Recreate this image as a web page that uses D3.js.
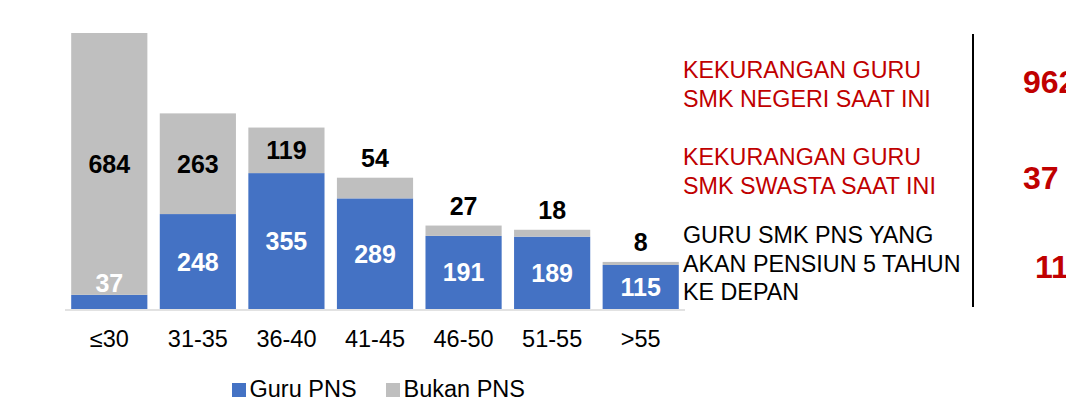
<!DOCTYPE html>
<html>
<head>
<meta charset="utf-8">
<script src="https://cdn.jsdelivr.net/npm/d3@7"></script>
<style>
  body { margin: 0; background: #fff; }
  text { font-family: "Liberation Sans", Arial, sans-serif; }
</style>
</head>
<body>
<div id="chart"></div>
<script>
var svgWidth = 1066;
var svgHeight = 401;

// data
var ageGroups = ["≤30", "31-35", "36-40", "41-45", "46-50", "51-55", ">55"];
var guruPNS = [37, 248, 355, 289, 191, 189, 115];
var bukanPNS = [684, 263, 119, 54, 27, 18, 8];
var seriesNames = ["Guru PNS", "Bukan PNS"];
var seriesColors = ["#4472c4", "#bfbfbf"];

var noteLines = [
  ["KEKURANGAN GURU", "SMK NEGERI SAAT INI"],
  ["KEKURANGAN GURU", "SMK SWASTA SAAT INI"],
  ["GURU SMK PNS YANG", "AKAN PENSIUN 5 TAHUN", "KE DEPAN"]
];
var noteColors = ["#c00000", "#c00000", "#000000"];
var noteValues = ["962", "37", "11"];

var svg = d3.select("#chart")
  .append("svg")
  .attr("width", svgWidth)
  .attr("height", svgHeight);

var xBandScale = d3.scaleBand()
  .domain(ageGroups)
  .range([65, 685])
  .paddingInner(0.14)
  .paddingOuter(0.07);

var yLinearScale = d3.scaleLinear()
  .domain([0, 721])
  .range([309, 33]);

var rows = ageGroups.map((g, i) => ({ group: g, pns: guruPNS[i], bukan: bukanPNS[i] }));

// baseline
svg.append("line")
  .attr("x1", 65).attr("x2", 685)
  .attr("y1", 310).attr("y2", 310)
  .attr("stroke", "#d9d9d9")
  .attr("stroke-width", 1.5);

// blue segments
svg.selectAll(".pns")
  .data(rows)
  .enter()
  .append("rect")
  .attr("x", d => xBandScale(d.group))
  .attr("y", d => yLinearScale(d.pns))
  .attr("width", xBandScale.bandwidth())
  .attr("height", d => yLinearScale(0) - yLinearScale(d.pns))
  .attr("fill", seriesColors[0]);

// grey segments
svg.selectAll(".bukan")
  .data(rows)
  .enter()
  .append("rect")
  .attr("x", d => xBandScale(d.group))
  .attr("y", d => yLinearScale(d.pns + d.bukan))
  .attr("width", xBandScale.bandwidth())
  .attr("height", d => yLinearScale(d.pns) - yLinearScale(d.pns + d.bukan))
  .attr("fill", seriesColors[1]);

// labels for blue segments
svg.selectAll(".pnsLabel")
  .data(rows)
  .enter()
  .append("text")
  .attr("x", d => xBandScale(d.group) + xBandScale.bandwidth() / 2)
  .attr("y", d => {
    var top = yLinearScale(d.pns), h = yLinearScale(0) - top;
    return h < 30 ? top - 3 : top + h / 2 + 9;
  })
  .attr("text-anchor", "middle")
  .attr("font-size", 25)
  .attr("font-weight", "bold")
  .attr("fill", "#fff")
  .text(d => d.pns);

// labels for grey segments
svg.selectAll(".bukanLabel")
  .data(rows)
  .enter()
  .append("text")
  .attr("x", d => xBandScale(d.group) + xBandScale.bandwidth() / 2)
  .attr("y", d => {
    var top = yLinearScale(d.pns + d.bukan), h = yLinearScale(d.pns) - top;
    return h < 30 ? top - 11 : top + h / 2 + 9;
  })
  .attr("text-anchor", "middle")
  .attr("font-size", 25)
  .attr("font-weight", "bold")
  .attr("fill", "#000")
  .text(d => d.bukan);

// x axis labels
var bottomAxis = d3.axisBottom(xBandScale).tickSize(0).tickPadding(0);
var xAxis = svg.append("g")
  .attr("transform", "translate(0, 347)")
  .call(bottomAxis);
xAxis.select(".domain").remove();
xAxis.selectAll("text")
  .attr("dy", 0)
  .attr("y", 0)
  .attr("font-size", 23.5)
  .attr("font-family", "Liberation Sans, Arial, sans-serif")
  .attr("fill", "#000");

// legend
var legendX = [232, 386];
seriesNames.forEach((name, i) => {
  svg.append("rect")
    .attr("x", legendX[i]).attr("y", 383)
    .attr("width", 14).attr("height", 14)
    .attr("fill", seriesColors[i]);
  svg.append("text")
    .attr("x", legendX[i] + 17.5)
    .attr("y", 397)
    .attr("font-size", 23.5)
    .attr("fill", "#000")
    .text(name);
});

// side notes
var noteTop = [78, 165, 243];
noteLines.forEach((lines, i) => {
  lines.forEach((line, j) => {
    svg.append("text")
      .attr("x", 683)
      .attr("y", noteTop[i] + j * 28.7)
      .attr("font-size", 23.3)
      .attr("fill", noteColors[i])
      .text(line);
  });
});

svg.append("line")
  .attr("x1", 973).attr("x2", 973)
  .attr("y1", 34).attr("y2", 307)
  .attr("stroke", "#000")
  .attr("stroke-width", 2);

var valueX = [1023, 1023, 1035];
var valueY = [93, 189, 278];
noteValues.forEach((v, i) => {
  svg.append("text")
    .attr("x", valueX[i])
    .attr("y", valueY[i])
    .attr("font-size", 32)
    .attr("font-weight", "bold")
    .attr("fill", "#c00000")
    .text(v);
});
</script>
</body>
</html>
